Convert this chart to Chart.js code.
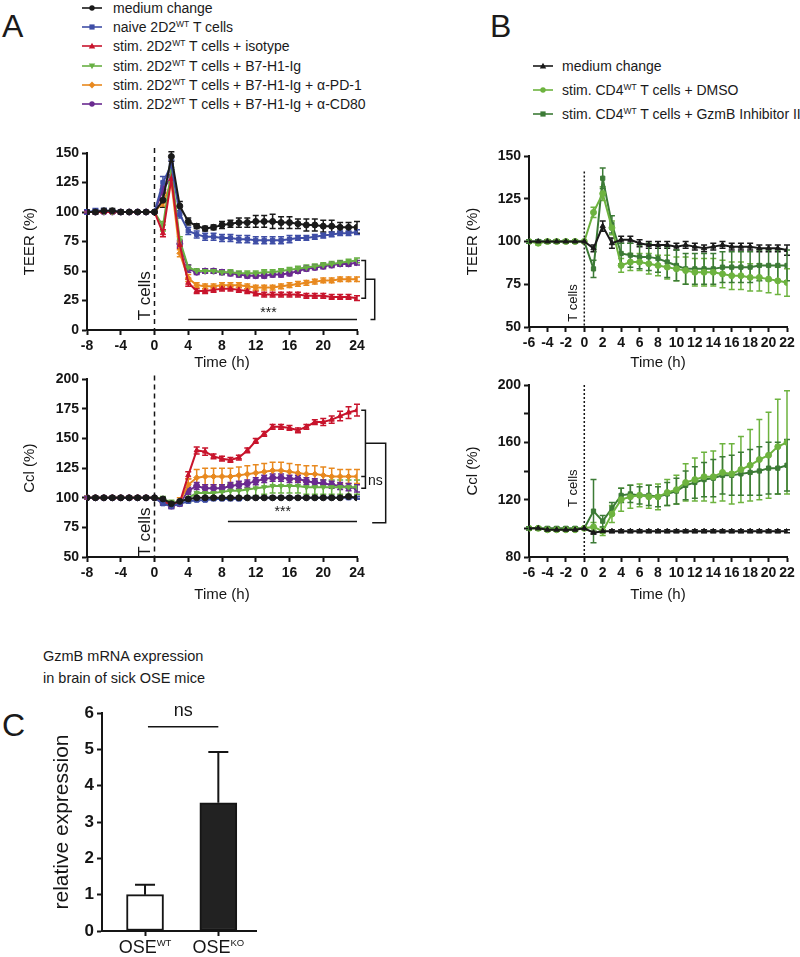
<!DOCTYPE html>
<html>
<head>
<meta charset="utf-8">
<title>TEER and Ccl time courses, GzmB expression</title>
<script src="https://cdn.jsdelivr.net/npm/chart.js@4.4.1/dist/chart.umd.min.js"></script>
<style>
  body { margin: 0; background: #fff; font-family: "Liberation Sans", Arial, sans-serif; color: #1a1a1a; }
  #page { position: relative; width: 800px; height: 957px; overflow: hidden; }
  .panel { position: absolute; }
  .letter { position: absolute; font-size: 32px; line-height: 32px; }
  .legend { position: absolute; font-size: 14px; }
  .legend .row { white-space: nowrap; display: flex; align-items: center; }
  .legend svg { flex: none; }
  sup { font-size: 8.5px; line-height: 0; vertical-align: 5px; }
  .ctitle { position: absolute; left: 43px; top: 645px; font-size: 14.5px; line-height: 22px; }
</style>
</head>
<body>
<div id="page">
  <div class="letter" style="left:2px;top:10px">A</div>
  <div class="letter" style="left:490px;top:10px">B</div>
  <div class="letter" style="left:2px;top:709px">C</div>
  <div class="legend" id="legendA" style="left:82px;top:-2px"></div>
  <div class="legend" id="legendB" style="left:533px;top:54px"></div>
  <div class="ctitle">GzmB mRNA expression<br>in brain of sick OSE mice</div>
  <div class="panel" style="left:0;top:130px"><canvas id="teerA" width="420" height="250"></canvas></div>
  <div class="panel" style="left:0;top:368px"><canvas id="cclA" width="420" height="242"></canvas></div>
  <div class="panel" style="left:440px;top:130px"><canvas id="teerB" width="360" height="250"></canvas></div>
  <div class="panel" style="left:440px;top:368px"><canvas id="cclB" width="360" height="242"></canvas></div>
  <div class="panel" style="left:0;top:690px"><canvas id="barC" width="290" height="267"></canvas></div>
</div>

<script>
// ---------- data: panel A (hourly, -8 h to 24 h) ----------
const hoursA = [-8,-7,-6,-5,-4,-3,-2,-1,0,1,2,3,4,5,6,7,8,9,10,11,12,13,14,15,16,17,18,19,20,21,22,23,24];

const teerMedium  = [100,100,101,101,100,100,100,100,100, 110,147,105,92,88,86,87,89,90,91,91,92,92,92,91,91,90,89,89,88,88,87,87,87];
const teerNaive   = [100,101,101,101,100,100,100,100,100, 125,140,98,84,81,79,79,78,78,77,77,76,76,76,76,77,78,78,79,80,81,82,82,83];
const teerIsotype = [100,100,100,100,100,100,100,100,100, 82,128,72,40,33,33,34,35,35,34,33,31,30,30,30,30,30,29,29,29,28,28,28,27];
const teerB7      = [100,100,100,100,100,100,100,100,100, 88,135,76,53,50,50,50,49,49,48,48,48,49,49,50,51,52,53,54,55,56,57,58,59];
const teerPd1     = [100,100,100,100,100,100,100,100,100, 108,125,65,44,38,37,37,38,38,38,37,36,36,36,37,38,39,40,41,42,42,43,43,43];
const teerCd80    = [100,100,100,100,100,100,100,100,100, 119,130,73,52,49,50,50,49,48,47,46,46,46,47,47,48,50,52,53,54,55,56,56,57];

const teerMediumErr  = [2,2,2,2,2,1,1,1,0, 6,4,4,3,2,2,2,3,3,4,4,5,5,6,5,5,4,5,5,5,5,4,4,5];
const teerNaiveErr   = [2,2,2,1,1,1,1,1,0, 5,4,3,3,3,3,3,3,3,3,3,3,3,3,3,3,2,2,2,2,2,2,2,2];
const teerIsotypeErr = [1,1,1,1,1,1,1,1,0, 3,3,3,3,2,2,2,2,2,2,2,2,2,2,2,2,2,2,2,2,2,2,2,2];
const teerB7Err      = [1,1,1,1,1,1,1,1,0, 4,3,3,2,2,2,2,2,2,2,2,2,2,2,2,2,2,2,2,2,2,2,2,2];
const teerPd1Err     = [1,1,1,1,1,1,1,1,0, 3,4,3,3,2,2,2,2,2,2,2,2,2,2,2,2,2,2,2,2,2,2,2,2];
const teerCd80Err    = [1,1,1,1,1,1,1,1,0, 3,4,3,3,2,2,2,2,2,2,2,2,2,2,2,2,2,2,2,2,2,2,2,2];

const cclMedium  = [100,100,100,100,100,100,100,100,100, 99,95,97,99,100,100,100,100,100,100,100,100,100,100,100,100,100,100,100,100,100,100,101,100];
const cclNaive   = [100,100,100,100,100,100,100,100,100, 95,93,95,97,98,98,99,99,99,99,100,100,100,100,100,100,100,100,100,100,100,100,100,100];
const cclIsotype = [100,100,100,100,100,100,100,100,100, 97,94,96,119,140,139,135,133,132,134,140,148,154,160,160,159,157,160,164,164,166,169,172,174];
const cclB7      = [100,100,100,100,100,100,100,100,100, 99,96,96,100,104,104,104,105,106,106,107,108,109,110,110,110,110,109,109,109,109,109,109,109];
const cclPd1     = [100,100,100,100,100,100,100,100,100, 96,94,97,111,117,118,118,118,118,119,120,121,122,123,123,122,121,120,120,119,118,118,118,118];
const cclCd80    = [100,100,100,100,100,100,100,100,100, 96,93,95,106,110,108,108,108,110,111,112,114,116,117,117,116,116,114,113,112,111,110,109,108];

const cclMediumErr  = [1,1,1,1,1,1,1,1,0, 1,2,1,1,1,1,1,1,1,1,1,1,1,1,1,1,1,1,1,1,1,1,1,1];
const cclNaiveErr   = [1,1,1,1,1,1,1,1,0, 1,2,1,1,1,1,1,1,1,1,1,1,1,1,1,1,1,1,1,1,1,1,1,1];
const cclIsotypeErr = [1,1,1,1,1,1,1,1,0, 2,2,2,3,3,3,2,2,2,2,2,2,2,2,2,2,2,2,2,3,3,4,5,5];
const cclB7Err      = [1,1,1,1,1,1,1,1,0, 2,2,2,4,5,5,5,5,6,6,6,6,6,6,6,6,6,6,6,6,6,6,6,6];
const cclPd1Err     = [1,1,1,1,1,1,1,1,0, 2,2,3,5,7,7,7,7,7,7,7,7,7,7,7,7,7,7,7,7,7,6,6,6];
const cclCd80Err    = [1,1,1,1,1,1,1,1,0, 2,2,2,3,3,3,3,3,3,3,3,3,3,3,3,3,3,3,3,3,3,3,3,3];

// ---------- data: panel B (hourly, -6 h to 22 h) ----------
const hoursB = [-6,-5,-4,-3,-2,-1,0,1,2,3,4,5,6,7,8,9,10,11,12,13,14,15,16,17,18,19,20,21,22];

const teerMediumB = [100,100,100,100,100,100,100, 96,109,99,101,101,99,98,98,98,97,98,97,96,97,98,97,97,97,96,96,96,95];
const teerDmso    = [100,99,100,100,100,100,100, 117,128,108,86,88,88,87,86,85,84,83,82,82,82,81,80,80,79,79,78,77,76];
const teerGzmb    = [100,100,100,100,100,100,100, 84,137,110,93,92,91,91,90,88,86,84,84,84,84,85,85,85,85,86,86,86,86];

const teerMediumBErr = [1,1,1,1,1,1,0, 2,3,3,2,2,2,2,2,2,2,2,2,2,2,2,2,2,2,2,2,2,3];
const teerDmsoErr    = [1,1,1,1,1,1,0, 3,4,4,4,5,5,6,6,7,7,8,8,8,8,8,8,8,8,8,8,8,8];
const teerGzmbErr    = [1,1,1,1,1,1,0, 5,6,5,6,7,7,8,8,9,9,9,9,9,9,9,9,9,9,9,9,9,9];

const cclMediumB = [100,100,99,99,99,99,100, 97,98,98,98,98,98,98,98,98,98,98,98,98,98,98,98,98,98,98,98,98,98];
const cclDmso    = [100,100,99,99,99,99,100, 101,98,110,120,122,123,122,122,125,127,132,134,136,136,139,138,141,144,148,151,157,160];
const cclGzmb    = [100,100,100,100,100,100,100, 112,105,114,123,124,123,123,122,124,126,130,132,134,135,137,137,138,139,140,142,142,144];

const cclMediumBErr = [1,1,1,1,1,1,0, 1,1,1,1,1,1,1,1,1,1,1,1,1,1,1,1,1,1,1,1,1,1];
const cclDmsoErr    = [1,1,1,1,1,1,0, 3,3,6,8,8,8,8,9,9,10,13,15,17,18,20,21,23,25,28,30,33,36];
const cclGzmbErr    = [1,1,1,1,1,1,0, 22,4,4,5,6,6,7,7,8,9,10,11,12,13,13,14,15,16,17,18,18,18];

// ---------- data: panel C ----------
const cGroups    = ['OSE', 'OSE'];
const cGenotypes = ['WT', 'KO'];
const cValues    = [1.0, 3.53];
const cErrors    = [0.27, 1.4];

// ---------- styles ----------
const INK = '#151515';
const FONT = '"Liberation Sans", Arial, Helvetica, sans-serif';
Chart.defaults.font.family = FONT;
Chart.defaults.color = INK;

const seriesA = [
  { label: 'medium change', color: '#1a1a1a', marker: 'circle', teer: teerMedium, teerErr: teerMediumErr, ccl: cclMedium, cclErr: cclMediumErr },
  { label: 'naive 2D2<sup>WT</sup> T cells', color: '#3f4ea6', marker: 'rect', teer: teerNaive, teerErr: teerNaiveErr, ccl: cclNaive, cclErr: cclNaiveErr },
  { label: 'stim. 2D2<sup>WT</sup> T cells + isotype', color: '#c8142c', marker: 'triangle', teer: teerIsotype, teerErr: teerIsotypeErr, ccl: cclIsotype, cclErr: cclIsotypeErr },
  { label: 'stim. 2D2<sup>WT</sup> T cells + B7-H1-Ig', color: '#68b044', marker: 'triangle', rotation: 180, teer: teerB7, teerErr: teerB7Err, ccl: cclB7, cclErr: cclB7Err },
  { label: 'stim. 2D2<sup>WT</sup> T cells + B7-H1-Ig + α-PD-1', color: '#e8891f', marker: 'rectRot', teer: teerPd1, teerErr: teerPd1Err, ccl: cclPd1, cclErr: cclPd1Err },
  { label: 'stim. 2D2<sup>WT</sup> T cells + B7-H1-Ig + α-CD80', color: '#6a2a90', marker: 'circle', teer: teerCd80, teerErr: teerCd80Err, ccl: cclCd80, cclErr: cclCd80Err }
];

const seriesB = [
  { label: 'medium change', color: '#1a1a1a', marker: 'triangle', teer: teerMediumB, teerErr: teerMediumBErr, ccl: cclMediumB, cclErr: cclMediumBErr },
  { label: 'stim. CD4<sup>WT</sup> T cells + DMSO', color: '#6db33f', marker: 'circle', teer: teerDmso, teerErr: teerDmsoErr, ccl: cclDmso, cclErr: cclDmsoErr },
  { label: 'stim. CD4<sup>WT</sup> T cells + GzmB Inhibitor II', color: '#3c7b36', marker: 'rect', teer: teerGzmb, teerErr: teerGzmbErr, ccl: cclGzmb, cclErr: cclGzmbErr }
];

// ---------- legends ----------
function markerSvg(s) {
  const c = s.color;
  let shape;
  if (s.marker === 'circle') shape = `<circle cx="10" cy="5" r="2.7" fill="${c}"/>`;
  else if (s.marker === 'rect') shape = `<rect x="7.4" y="2.4" width="5.2" height="5.2" fill="${c}"/>`;
  else if (s.marker === 'rectRot') shape = `<polygon points="10,1.6 13.4,5 10,8.4 6.6,5" fill="${c}"/>`;
  else shape = `<polygon points="10,1.8 13.2,7.4 6.8,7.4" fill="${c}" transform="rotate(${s.rotation || 0} 10 5)"/>`;
  return `<svg width="20" height="10"><line x1="0" y1="5" x2="20" y2="5" stroke="${c}" stroke-width="1.6"/>${shape}</svg>`;
}

function buildLegend(id, series, rowHeight, gap) {
  document.getElementById(id).innerHTML = series.map(s =>
    `<div class="row" style="height:${rowHeight}px">${markerSvg(s)}<span style="margin-left:${gap}px">${s.label}</span></div>`
  ).join('');
}
buildLegend('legendA', seriesA, 19.3, 11);
buildLegend('legendB', seriesB, 24, 9);

// ---------- plugins ----------
const errorBars = {
  id: 'errorBars',
  beforeDatasetsDraw(chart) {
    const { ctx, scales: { x, y } } = chart;
    chart.data.datasets.forEach(ds => {
      if (!ds.errors) return;
      ctx.save();
      ctx.strokeStyle = ds.errColor || ds.borderColor;
      ctx.lineWidth = ds.errWidth || 1.5;
      const cap = ds.capHalf || 3;
      ds.data.forEach((p, i) => {
        const e = ds.errors[i];
        if (!e) return;
        const px = x.getPixelForValue(p.x);
        const top = y.getPixelForValue(p.y + e);
        const bot = y.getPixelForValue(ds.upperOnly ? p.y : p.y - e);
        ctx.beginPath();
        ctx.moveTo(px, top); ctx.lineTo(px, bot);
        ctx.moveTo(px - cap, top); ctx.lineTo(px + cap, top);
        if (!ds.upperOnly) { ctx.moveTo(px - cap, bot); ctx.lineTo(px + cap, bot); }
        ctx.stroke();
      });
      ctx.restore();
    });
  }
};

function overlay(draw) {
  return {
    id: 'overlay',
    afterDraw(chart) {
      const { ctx, scales: { x, y } } = chart;
      ctx.save();
      ctx.strokeStyle = INK;
      ctx.fillStyle = INK;
      draw(ctx, v => x.getPixelForValue(v), v => y.getPixelForValue(v), chart.chartArea);
      ctx.restore();
    }
  };
}

function path(ctx, pts, width) {
  ctx.lineWidth = width || 1.5;
  ctx.beginPath();
  pts.forEach((p, i) => i ? ctx.lineTo(p[0], p[1]) : ctx.moveTo(p[0], p[1]));
  ctx.stroke();
}

function label(ctx, str, px, py, size, align) {
  ctx.font = `${size}px ${FONT}`;
  ctx.textAlign = align || 'center';
  ctx.textBaseline = 'middle';
  ctx.fillText(str, px, py);
}

function vlabel(ctx, str, px, py, size) {
  ctx.save();
  ctx.translate(px, py);
  ctx.rotate(-Math.PI / 2);
  label(ctx, str, 0, 0, size);
  ctx.restore();
}

// ---------- time-course chart builder ----------
function timeChart(id, cfg) {
  const datasets = cfg.series.map(s => ({
    label: s.label,
    data: cfg.hours.map((h, i) => ({ x: h, y: s[cfg.key][i] })),
    errors: s[cfg.key + 'Err'],
    borderColor: s.color,
    backgroundColor: s.color,
    pointStyle: s.marker,
    pointRotation: s.rotation || 0,
    pointRadius: 3,
    pointBorderWidth: 1,
    borderWidth: 2,
    tension: 0
  }));
  const axisGrid = { drawOnChartArea: false, tickLength: 5, tickWidth: 2, tickColor: INK };
  return new Chart(document.getElementById(id), {
    type: 'line',
    data: { datasets },
    options: {
      responsive: false,
      animation: false,
      devicePixelRatio: 1,
      layout: { padding: { top: cfg.padTop, right: cfg.padRight, left: 0, bottom: 0 } },
      plugins: { legend: { display: false }, tooltip: { enabled: false } },
      scales: {
        x: {
          type: 'linear', min: cfg.xMin, max: cfg.xMax,
          border: { color: INK, width: 2 },
          grid: axisGrid,
          ticks: { stepSize: cfg.xStep, autoSkip: false, maxRotation: 0, padding: 3,
                   color: INK, font: { size: 14, weight: 'bold' } },
          title: { display: true, text: 'Time (h)', color: INK, font: { size: 15 },
                   padding: { top: 0, bottom: cfg.xTitlePad } },
          afterFit: s => { s.height = cfg.xHeight; }
        },
        y: {
          min: cfg.yMin, max: cfg.yMax,
          border: { color: INK, width: 2 },
          grid: axisGrid,
          ticks: { stepSize: cfg.yStep, padding: 3, color: INK, font: { size: 14, weight: 'bold' },
                   callback: cfg.yCallback || (v => v) },
          title: { display: true, text: cfg.yTitle, color: INK, font: { size: 15 },
                   padding: { top: cfg.yTitlePad, bottom: 0 } },
          afterFit: s => { s.width = cfg.yWidth; }
        }
      }
    },
    plugins: [errorBars, overlay(cfg.draw)]
  });
}

// ---------- panel A ----------
timeChart('teerA', {
  hours: hoursA, series: seriesA, key: 'teer',
  xMin: -8, xMax: 24, xStep: 4, yMin: 0, yMax: 150, yStep: 25, yTitle: 'TEER (%)',
  padTop: 23, padRight: 63, yWidth: 87, xHeight: 50, yTitlePad: 20.5, xTitlePad: 8.5,
  draw(ctx, x, y, area) {
    ctx.setLineDash([5, 4]);
    path(ctx, [[x(0), area.top - 5], [x(0), area.bottom]]);
    ctx.setLineDash([]);
    vlabel(ctx, 'T cells', x(0) - 9, y(29), 17);
    path(ctx, [[x(24.5), y(59)], [x(25), y(59)], [x(25), y(27)], [x(24.5), y(27)]]);
    path(ctx, [[x(25), y(43)], [x(26.1), y(43)], [x(26.1), y(9)], [x(25.6), y(9)]]);
    path(ctx, [[x(4), y(9)], [x(24), y(9)]]);
    label(ctx, '***', x(13.5), y(14), 14);
  }
});

timeChart('cclA', {
  hours: hoursA, series: seriesA, key: 'ccl',
  xMin: -8, xMax: 24, xStep: 4, yMin: 50, yMax: 200, yStep: 25, yTitle: 'Ccl (%)',
  padTop: 11, padRight: 63, yWidth: 87, xHeight: 53, yTitlePad: 20.5, xTitlePad: 6.5,
  draw(ctx, x, y, area) {
    ctx.setLineDash([5, 4]);
    path(ctx, [[x(0), area.top - 4], [x(0), area.bottom]]);
    ctx.setLineDash([]);
    vlabel(ctx, 'T cells', x(0) - 9, y(71), 17);
    path(ctx, [[x(24.5), y(174)], [x(25), y(174)], [x(25), y(108)], [x(24.5), y(108)]]);
    path(ctx, [[x(24.5), y(118)], [x(25), y(118)]]);
    label(ctx, 'ns', x(25.3), y(114), 14, 'left');
    path(ctx, [[x(25), y(146)], [x(27.4), y(146)], [x(27.4), y(79)], [x(25.8), y(79)]]);
    path(ctx, [[x(8.7), y(80)], [x(24), y(80)]]);
    label(ctx, '***', x(15.2), y(88), 14);
  }
});

// ---------- panel B ----------
timeChart('teerB', {
  hours: hoursB, series: seriesB, key: 'teer',
  xMin: -6, xMax: 22, xStep: 2, yMin: 50, yMax: 150, yStep: 25, yTitle: 'TEER (%)',
  padTop: 26, padRight: 13, yWidth: 89, xHeight: 53, yTitlePad: 23.5, xTitlePad: 8.5,
  draw(ctx, x, y, area) {
    ctx.setLineDash([2, 2]);
    path(ctx, [[x(0), y(141)], [x(0), area.bottom]]);
    ctx.setLineDash([]);
    vlabel(ctx, 'T cells', x(0) - 11, y(64), 13);
  }
});

timeChart('cclB', {
  hours: hoursB, series: seriesB, key: 'ccl',
  xMin: -6, xMax: 22, xStep: 2, yMin: 80, yMax: 200, yStep: 20, yTitle: 'Ccl (%)',
  yCallback: v => (v % 40 === 0 ? v : ''),
  padTop: 17, padRight: 13, yWidth: 89, xHeight: 53, yTitlePad: 23.5, xTitlePad: 6.5,
  draw(ctx, x, y, area) {
    ctx.setLineDash([2, 2]);
    path(ctx, [[x(0), area.top], [x(0), area.bottom]]);
    ctx.setLineDash([]);
    vlabel(ctx, 'T cells', x(0) - 11, y(128), 13);
  }
});

// ---------- panel C ----------
new Chart(document.getElementById('barC'), {
  type: 'bar',
  data: {
    datasets: [{
      data: cValues.map((v, i) => ({ x: i, y: v })),
      errors: cErrors,
      upperOnly: true,
      capHalf: 10,
      errWidth: 2,
      errColor: INK,
      backgroundColor: ['#ffffff', '#222222'],
      borderColor: INK,
      borderWidth: 2,
      borderSkipped: false,
      barThickness: 37
    }]
  },
  options: {
    responsive: false,
    animation: false,
    devicePixelRatio: 1,
    layout: { padding: { top: 23, right: 34, left: 0, bottom: 0 } },
    plugins: { legend: { display: false }, tooltip: { enabled: false } },
    scales: {
      x: {
        type: 'linear', min: -0.587, max: 1.514, offset: false,
        border: { color: INK, width: 2 },
        grid: { offset: false, drawOnChartArea: false, tickLength: 5, tickWidth: 2, tickColor: INK },
        ticks: { callback: () => '' },
        afterBuildTicks: s => { s.ticks = cValues.map((v, i) => ({ value: i })); },
        afterFit: s => { s.height = 26; }
      },
      y: {
        min: 0, max: 6,
        border: { color: INK, width: 2 },
        grid: { drawOnChartArea: false, tickLength: 5, tickWidth: 2, tickColor: INK },
        ticks: { stepSize: 1, padding: 3, color: INK, font: { size: 17, weight: 'bold' } },
        title: { display: true, text: 'relative expression', color: INK, font: { size: 21 },
                 padding: { top: 50, bottom: 0 } },
        afterFit: s => { s.width = 102; }
      }
    }
  },
  plugins: [errorBars, overlay((ctx, x, y, area) => {
    path(ctx, [[x(0.04), y(5.62)], [x(1.0), y(5.62)]], 1.5);
    label(ctx, 'ns', x(0.52), y(6.05), 18);
    cGroups.forEach((g, i) => {
      ctx.font = `18px ${FONT}`;
      const w1 = ctx.measureText(g).width;
      ctx.font = `9.5px ${FONT}`;
      const w2 = ctx.measureText(cGenotypes[i]).width;
      const start = x(i) - (w1 + w2) / 2;
      const base = area.bottom + 22;
      ctx.textAlign = 'left';
      ctx.textBaseline = 'alphabetic';
      ctx.font = `18px ${FONT}`;
      ctx.fillText(g, start, base);
      ctx.font = `9.5px ${FONT}`;
      ctx.fillText(cGenotypes[i], start + w1, base - 7);
    });
  })]
});
</script>
</body>
</html>
